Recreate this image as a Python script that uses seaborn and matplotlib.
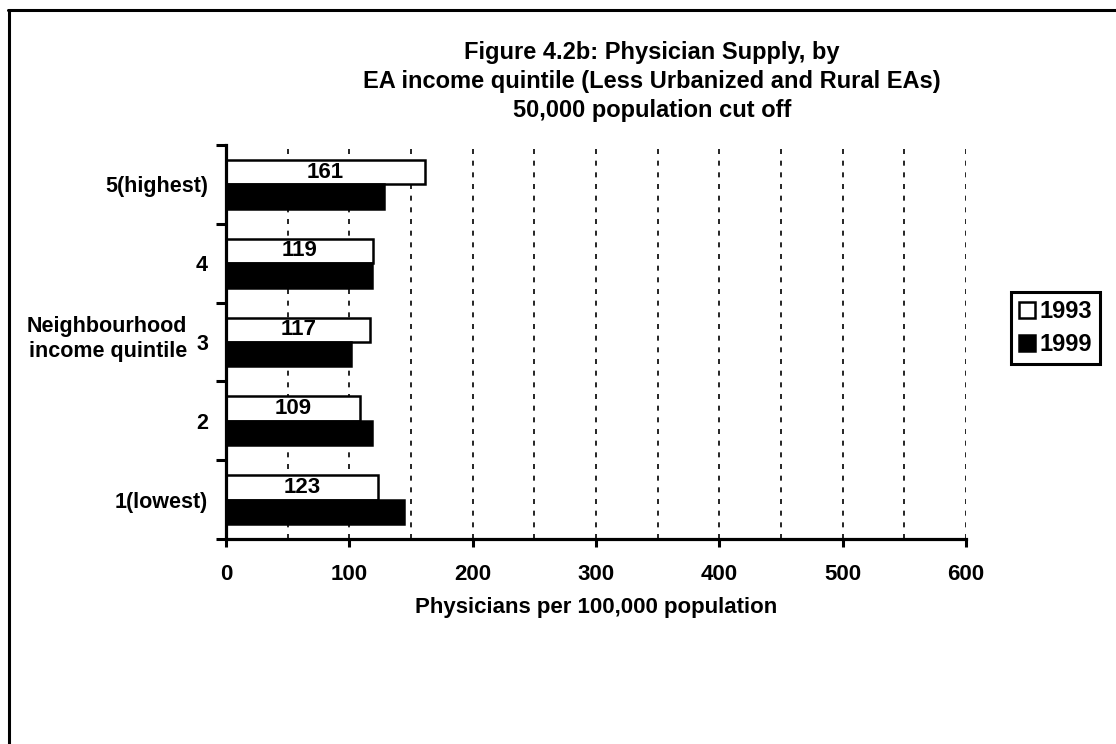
import matplotlib
matplotlib.use('Agg')
import matplotlib.pyplot as plt
import seaborn as sns
import pandas as pd
from matplotlib.lines import Line2D

# ---- data ----
categories = ['5(highest)', '4', '3', '2', '1(lowest)']
years = ['1993', '1999']
values_1993 = [161, 119, 117, 109, 123]
values_1999 = [128, 118, 101, 118, 144]
x_ticks = [0, 100, 200, 300, 400, 500, 600]
title_lines = ['Figure 4.2b: Physician Supply, by',
               'EA income quintile (Less Urbanized and Rural EAs)',
               '50,000 population cut off']
x_label = 'Physicians per 100,000 population'
y_label = 'Neighbourhood\nincome quintile'

sns.set_theme(style='ticks')
plt.rcParams['font.family'] = ['Liberation Sans', 'DejaVu Sans']
plt.rcParams['font.weight'] = 'bold'
plt.rcParams['text.color'] = 'black'
plt.rcParams['legend.labelcolor'] = 'black'

df = pd.DataFrame({
    'Quintile': categories * 2,
    'Year': [years[0]] * len(categories) + [years[1]] * len(categories),
    'Value': values_1993 + values_1999,
})

W, H = 1116, 744
fig = plt.figure(figsize=(W / 100, H / 100), dpi=100)
fig.patch.set_facecolor('white')
ax = fig.add_axes([226 / W, 1 - 539 / H, 740 / W, 394 / H])

sns.barplot(data=df, y='Quintile', x='Value', hue='Year', order=categories,
            hue_order=years, palette={'1993': 'white', '1999': 'black'},
            edgecolor='black', linewidth=1.8, width=0.62, orient='h',
            saturation=1, errorbar=None, ax=ax)

ax.bar_label(ax.containers[0], label_type='center', fontsize=16,
             fontweight='bold', color='black')

ax.set_xlim(0, 600)
ax.set_ylim(len(categories) - 0.5, -0.5)
ax.set_xticks(x_ticks)
ax.set_xticks([50, 150, 250, 350, 450, 550], minor=True)
ax.set_yticks([i - 0.5 for i in range(len(categories) + 1)], minor=True)

ax.grid(True, axis='x', which='both', color='black',
        linestyle=(0, (3, 4)), linewidth=1.2)
ax.set_axisbelow(True)

for s in ['top', 'right']:
    ax.spines[s].set_visible(False)
for s in ['left', 'bottom']:
    ax.spines[s].set_linewidth(2.3)
    ax.spines[s].set_color('black')

ax.tick_params(axis='y', which='major', length=0, pad=13, labelsize=15.5,
               labelcolor='black')
ax.tick_params(axis='y', which='minor', length=7, width=2.2, color='black',
               direction='out')
ax.tick_params(axis='x', which='major', length=6, width=2.2, color='black',
               direction='out', pad=12, labelsize=16, labelcolor='black')
ax.tick_params(axis='x', which='minor', length=0)

ax.set_ylabel('')
ax.set_xlabel(x_label, fontsize=16, fontweight='bold', color='black')
ax.xaxis.set_label_coords(0.5, (539 - 607) / 394)
ax.xaxis.label.set_va('center')

fig.text(187 / W, 1 - 339 / H, y_label, ha='right', va='center',
         fontsize=15.5, fontweight='bold', linespacing=1.3, color='black')

baselines = [59, 88, 117]
for line, yb in zip(title_lines, baselines):
    fig.text(652 / W, 1 - yb / H, line, ha='center', va='baseline',
             fontsize=17, fontweight='bold', color='black')

sns.move_legend(ax, 'upper left', bbox_to_anchor=(1011 / W, 1 - 292 / H),
                bbox_transform=fig.transFigure, title=None, frameon=True,
                fancybox=False, framealpha=1, borderaxespad=0,
                fontsize=17, handlelength=0.65, handleheight=0.65,
                handletextpad=0.2, borderpad=0.35, labelspacing=0.42)
leg = ax.get_legend()
leg.get_frame().set_edgecolor('black')
leg.get_frame().set_linewidth(2.2)
for t in leg.get_texts():
    t.set_color('black')
    t.set_fontweight('bold')

# figure border (top and left)
fig.add_artist(Line2D([8 / W, 1], [1 - 10 / H, 1 - 10 / H], color='black',
                      linewidth=2.2, transform=fig.transFigure))
fig.add_artist(Line2D([9 / W, 9 / W], [0, 1 - 10 / H], color='black',
                      linewidth=2.2, transform=fig.transFigure))

fig.savefig('out.png', dpi=100, facecolor='white')
